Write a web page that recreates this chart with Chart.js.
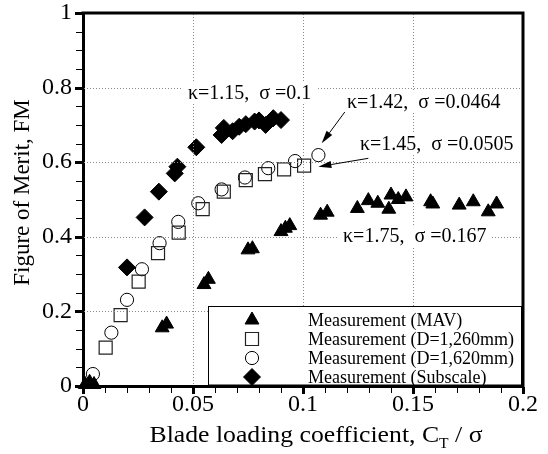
<!DOCTYPE html>
<html><head><meta charset="utf-8">
<script src="https://cdn.jsdelivr.net/npm/chart.js@4/dist/chart.umd.min.js"></script>
<style>html,body{margin:0;padding:0;background:#fff}#wrap{width:548px;height:454px}</style>
</head><body><div id="wrap"><canvas id="c" width="548" height="454"></canvas></div>
<script>
// ---------- data ----------
const seriesNames = ['Measurement (MAV)', 'Measurement (D=1,260mm)', 'Measurement (D=1,620mm)', 'Measurement (Subscale)'];
const mavX = [0.001,0.003,0.005,0.036,0.038,0.055,0.057,0.075,0.077,0.090,0.092,0.094,0.108,0.111,0.1247,0.1297,0.134,0.139,0.140,0.1433,0.1468,0.158,0.159,0.171,0.1774,0.1842,0.188];
const mavY = [0.004,0.010,0.004,0.156,0.166,0.272,0.286,0.365,0.368,0.414,0.423,0.430,0.458,0.466,0.476,0.497,0.490,0.474,0.512,0.500,0.507,0.494,0.488,0.485,0.494,0.467,0.488];
const d1260X = [0.0103,0.0171,0.0253,0.0341,0.0435,0.0544,0.064,0.074,0.0827,0.0914,0.1005];
const d1260Y = [0.103,0.190,0.280,0.356,0.411,0.474,0.521,0.552,0.568,0.581,0.591];
const d1620X = [0.0045,0.0129,0.020,0.0268,0.0348,0.0433,0.0524,0.063,0.0736,0.0842,0.0964,0.107];
const d1620Y = [0.032,0.143,0.231,0.313,0.383,0.440,0.490,0.527,0.559,0.584,0.603,0.619];
const subX = [0.020,0.028,0.0345,0.0417,0.0429,0.0515,0.063,0.064,0.068,0.071,0.074,0.078,0.080,0.083,0.0865,0.090];
const subY = [0.318,0.452,0.521,0.570,0.588,0.640,0.673,0.692,0.683,0.695,0.702,0.709,0.712,0.700,0.718,0.713];
const xTickLabels = ['0','0.05','0.1','0.15','0.2'];
const yTickLabels = ['0','0.2','0.4','0.6','0.8','1'];
const annoTexts = ['κ=1.15,  σ =0.1', 'κ=1.42,  σ =0.0464', 'κ=1.45,  σ =0.0505', 'κ=1.75,  σ =0.167'];

// ---------- styling ----------
const FONT = "'Liberation Serif','Times New Roman',serif";
const zip = (xs, ys) => xs.map((v, i) => ({x: v, y: ys[i]}));
const styles = [
  {pointStyle:'triangle', radius:8, bg:'#000', bc:'#000', bw:1},
  {pointStyle:'rect', radius:9.2, bg:'rgba(0,0,0,0)', bc:'#222', bw:1.2},
  {pointStyle:'circle', radius:6.6, bg:'rgba(0,0,0,0)', bc:'#000', bw:1},
  {pointStyle:'rectRot', radius:8.5, bg:'#000', bc:'#000', bw:1}
];
const seriesData = [zip(mavX, mavY), zip(d1260X, d1260Y), zip(d1620X, d1620Y), zip(subX, subY)];

// annotation placement (data units): left x, baseline y
const annoPos = [[0.0477,0.7694],[0.120,0.7453],[0.1259,0.6327],[0.1182,0.3861]];
const arrows = [[0.119,0.7346,0.1085,0.6506],[0.1297,0.6104,0.107,0.588]];

const near = (v, step) => Math.abs(v/step - Math.round(v/step)) < 1e-6;

// dotted grid + tick marks, drawn with small filled rectangles
function drawGridAndTicks(chart) {
  const {ctx, chartArea: a, scales: {x, y}} = chart;
  ctx.save();
  ctx.globalAlpha = 1;
  ctx.globalCompositeOperation = 'source-over';
  ctx.fillStyle = '#8a8a8a';
  const top = Math.ceil(a.top + 1), bot = Math.floor(a.bottom - 1);
  const lef = Math.ceil(a.left + 1), rig = Math.floor(a.right - 1);
  x.ticks.forEach(t => {
    if (near(t.value, 0.05) && t.value > 0.001 && t.value < 0.199) {
      const c = Math.round(x.getPixelForValue(t.value));
      for (let yy = top; yy <= bot; yy += 3) ctx.fillRect(c, yy, 1, 1);
    }
  });
  y.ticks.forEach(t => {
    if (near(t.value, 0.2) && t.value > 0.001 && t.value < 0.999) {
      const r = Math.round(y.getPixelForValue(t.value));
      for (let xx = lef; xx <= rig; xx += 3) ctx.fillRect(xx, r, 1, 1);
    }
  });
  ctx.fillStyle = '#000';
  x.ticks.forEach(t => {
    const p = x.getPixelForValue(t.value);
    if (near(t.value, 0.05)) ctx.fillRect(Math.round(p) - 1, Math.round(a.bottom) + 1, 3, 7);
    else ctx.fillRect(Math.round(p), Math.round(a.bottom) + 1, 1, 6);
  });
  y.ticks.forEach(t => {
    const p = y.getPixelForValue(t.value);
    if (near(t.value, 0.2)) ctx.fillRect(Math.round(a.left) - 8, Math.round(p) - 1, 7, 3);
    else ctx.fillRect(Math.round(a.left) - 7, Math.round(p), 6, 1);
  });
  ctx.restore();
}

const deco = {
  id: 'deco',
  afterDatasetsDraw(chart) {
    const {ctx, chartArea: a, scales: {x, y}} = chart;
    drawGridAndTicks(chart);
    ctx.save();
    // annotations
    ctx.font = '20px ' + FONT;
    ctx.textBaseline = 'alphabetic';
    ctx.textAlign = 'left';
    annoTexts.forEach((t, i) => {
      const px = x.getPixelForValue(annoPos[i][0]);
      const py = y.getPixelForValue(annoPos[i][1]);
      const w = ctx.measureText(t).width;
      ctx.fillStyle = '#fff';
      ctx.fillRect(px - 5, py - 16, w + 10, 21);
      ctx.fillStyle = '#000';
      ctx.fillText(t, px, py);
    });
    // arrows
    arrows.forEach(ar => {
      const x1 = x.getPixelForValue(ar[0]), y1 = y.getPixelForValue(ar[1]);
      const x2 = x.getPixelForValue(ar[2]), y2 = y.getPixelForValue(ar[3]);
      const ang = Math.atan2(y2 - y1, x2 - x1);
      const L = 13, H = 3.5;
      ctx.strokeStyle = '#000'; ctx.lineWidth = 1;
      ctx.beginPath(); ctx.moveTo(x1, y1);
      ctx.lineTo(x2 - Math.cos(ang) * L, y2 - Math.sin(ang) * L); ctx.stroke();
      ctx.fillStyle = '#000';
      ctx.beginPath();
      ctx.moveTo(x2, y2);
      ctx.lineTo(x2 - Math.cos(ang) * L - Math.sin(ang) * H, y2 - Math.sin(ang) * L + Math.cos(ang) * H);
      ctx.lineTo(x2 - Math.cos(ang) * L + Math.sin(ang) * H, y2 - Math.sin(ang) * L - Math.cos(ang) * H);
      ctx.closePath(); ctx.fill();
    });
    // legend
    const lx = a.left + 125, ly = a.top + 293;
    ctx.fillStyle = '#fff';
    ctx.fillRect(lx, ly, a.right - 1.5 - lx, a.bottom - 1.5 - ly);
    ctx.strokeStyle = '#000'; ctx.lineWidth = 1;
    ctx.strokeRect(lx + 0.5, ly + 0.5, a.right - 2 - lx, a.bottom - 1.5 - ly);
    ctx.font = '18px ' + FONT;
    ctx.textBaseline = 'middle';
    seriesNames.forEach((n, i) => {
      const cy = ly + 14 + i * 19;
      const s = styles[i];
      ctx.fillStyle = s.bg; ctx.strokeStyle = s.bc; ctx.lineWidth = s.bw;
      Chart.helpers.drawPoint(ctx, {pointStyle: s.pointStyle, radius: s.radius, rotation: 0, borderWidth: s.bw}, lx + 44, cy);
      ctx.fillStyle = '#000';
      ctx.fillText(n, lx + 100, cy + 1);
    });
    // top & right frame
    ctx.strokeStyle = '#000'; ctx.lineWidth = 3;
    ctx.beginPath();
    ctx.moveTo(a.left - 1.5, a.top); ctx.lineTo(a.right + 1.5, a.top);
    ctx.moveTo(a.right, a.top); ctx.lineTo(a.right, a.bottom + 1.5);
    ctx.stroke();
    ctx.restore();
  },
  afterDraw(chart) {
    const {ctx, chartArea: a} = chart;
    ctx.save();
    ctx.fillStyle = '#000';
    // y title
    ctx.font = '23px ' + FONT;
    ctx.translate(23, (a.top + a.bottom) / 2 - 7);
    ctx.rotate(-Math.PI / 2);
    ctx.textAlign = 'center'; ctx.textBaseline = 'middle';
    ctx.fillText('Figure of Merit, FM', 0, 0);
    ctx.restore();
    // x title with subscript, fitted to reference width
    ctx.save();
    ctx.fillStyle = '#000';
    const p1 = 'Blade loading coefficient, C', p2 = 'T', p3 = ' / σ';
    ctx.font = '23px ' + FONT; const w1 = ctx.measureText(p1).width, w3 = ctx.measureText(p3).width;
    ctx.font = '14px ' + FONT; const w2 = ctx.measureText(p2).width;
    const tot = w1 + w2 + w3, target = 333, k = target / tot;
    ctx.translate(316 - target / 2, 442);
    ctx.scale(k, 1);
    ctx.textBaseline = 'alphabetic'; ctx.textAlign = 'left';
    let sx = 0;
    ctx.font = '23px ' + FONT; ctx.fillText(p1, sx, 0); sx += w1;
    ctx.font = '14px ' + FONT; ctx.fillText(p2, sx, 6); sx += w2;
    ctx.font = '23px ' + FONT; ctx.fillText(p3, sx, 0);
    ctx.restore();
  }
};

new Chart(document.getElementById('c'), {
  type: 'scatter',
  data: {
    datasets: seriesData.map((d, i) => ({
      label: seriesNames[i], data: d,
      pointStyle: styles[i].pointStyle, pointRadius: styles[i].radius, pointHoverRadius: styles[i].radius,
      pointBackgroundColor: styles[i].bg, pointBorderColor: styles[i].bc, pointBorderWidth: styles[i].bw,
      showLine: false, clip: false
    }))
  },
  options: {
    responsive: false, animation: false, events: [],
    layout: {padding: {left: 0, top: 13, right: 25, bottom: 0}},
    plugins: {legend: {display: false}, tooltip: {enabled: false}},
    scales: {
      x: {
        type: 'linear', min: 0, max: 0.2,
        afterFit: s => { s.height = 68; s.paddingLeft = 0; s.paddingRight = 0; },
        ticks: {
          stepSize: 0.01, autoSkip: false, maxRotation: 0, minRotation: 0, color: '#000', font: {family: FONT, size: 24}, padding: 0,
          callback: v => near(v, 0.05) ? xTickLabels[Math.round(v / 0.05)] : ''
        },
        grid: {color: 'rgba(255,255,255,0)', tickLength: 4, tickColor: 'rgba(255,255,255,0)'},
        border: {display: true, color: '#000', width: 3}
      },
      y: {
        type: 'linear', min: 0, max: 1,
        afterFit: s => { s.width = 83; s.paddingTop = 0; s.paddingBottom = 0; },
        ticks: {
          stepSize: 0.05, autoSkip: false, color: '#000', font: {family: FONT, size: 24}, padding: 4,
          callback: v => near(v, 0.2) ? yTickLabels[Math.round(v / 0.2)] : ''
        },
        grid: {color: 'rgba(255,255,255,0)', tickLength: 7, tickColor: 'rgba(255,255,255,0)'},
        border: {display: true, color: '#000', width: 3}
      }
    }
  },
  plugins: [deco]
});
</script></body></html>
